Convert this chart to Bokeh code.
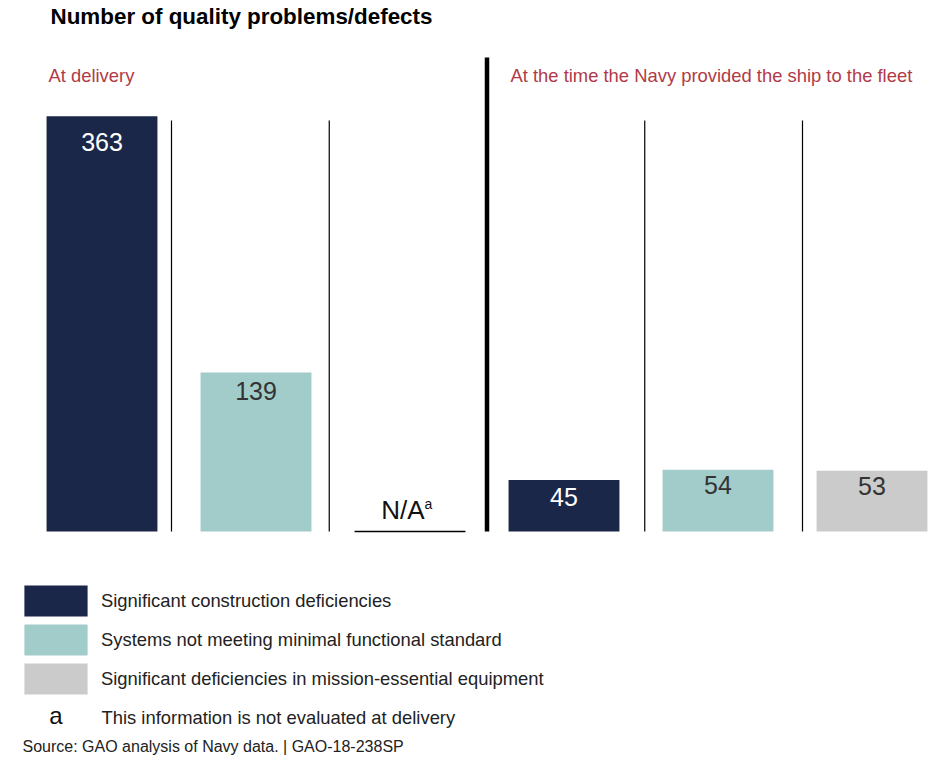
from bokeh.plotting import figure
from bokeh.models import Range1d, Legend, LegendItem
from bokeh.core.properties import value
from bokeh.embed import file_html
from bokeh.resources import INLINE

# ---------------- data ----------------
title_text = "Number of quality problems/defects"
periods = ["At delivery", "At the time the Navy provided the ship to the fleet"]
measures = [
    "Significant construction deficiencies",
    "Systems not meeting minimal functional standard",
    "Significant deficiencies in mission-essential equipment",
]
at_delivery = [363, 139, None]   # None = not evaluated at delivery
to_fleet = [45, 54, 53]
na_text = "N/A"
footnote_mark = "a"
footnote_text = "This information is not evaluated at delivery"
source_text = "Source: GAO analysis of Navy data.  |  GAO-18-238SP"

# ---------------- styles ----------------
bar_colors = ["#1B2749", "#A2CCC9", "#CBCBCB"]
label_colors = ["#FFFFFF", "#333333", "#333333"]
header_color = "#B03A48"
FONT_NAME = "Liberation Sans"
FONT = value(FONT_NAME)
BASE_FIX = 0.39  # alphabetic baseline correction (em)

# ---------------- layout ----------------
W, H = 932, 765
SLOT_PX = 154.0        # pixels between neighbouring bar centres
SLOT0_X = 101.5        # page x of the first bar centre
ZERO_Y = 531.0         # page y of the baseline
UNIT_PX = 1.144        # pixels per defect


def fx(x):  # page x -> data x
    return (x - SLOT0_X) / SLOT_PX


def fy(y):  # page y -> data y
    return (ZERO_Y - y) / UNIT_PX


p = figure(width=W, height=H, output_backend="svg", toolbar_location=None,
           x_range=Range1d(fx(0), fx(W)), y_range=Range1d(fy(H), fy(0)),
           x_axis_location=None, y_axis_location=None, min_border=0,
           outline_line_color=None, background_fill_color="white")
p.grid.visible = False


def txt(x, y, text, size, yoff=0.0, **kw):
    kw.setdefault("text_baseline", "alphabetic")
    p.text(x=x, y=y, text=text, text_font=FONT, text_font_size=f"{size}px",
           y_offset=yoff - BASE_FIX * size, **kw)


BAR_W = 0.72
series = [at_delivery, to_fleet]
label_offsets = {0: 36, 1: 28, 3: 26.5, 4: 25, 5: 25}   # px from bar top to label baseline

renderers = []
for m in range(len(measures)):
    xs, tops = [], []
    for g, vals in enumerate(series):
        if vals[m] is not None:
            xs.append(g * len(measures) + m)
            tops.append(vals[m])
    r = p.vbar(x=xs, top=tops, bottom=0, width=BAR_W, fill_color=bar_colors[m], line_color=None)
    renderers.append(r)
    for x, t in zip(xs, tops):
        txt([x], [t], [str(t)], 25, yoff=label_offsets.get(x, 26), text_align="center",
            text_color=label_colors[m])

# N/A markers for missing values
for g, vals in enumerate(series):
    for m, v in enumerate(vals):
        if v is None:
            xc = g * len(measures) + m
            p.segment(x0=[xc - BAR_W / 2], y0=[0], x1=[xc + BAR_W / 2], y1=[0],
                      line_color="#000000", line_width=1.3)
            txt([xc], [0], [na_text], 26, yoff=-11, text_align="center", x_offset=-7,
                text_color="#111111")
            txt([xc], [0], [footnote_mark], 14, yoff=-22.5, text_align="left", x_offset=14.5,
                text_color="#111111")

# separators
SEP_X0, SEP_STEP = 171.0, 157.75
thin = [fx(SEP_X0 + i * SEP_STEP) for i in range(5) if i != 2]
p.segment(x0=thin, y0=[0] * 4, x1=thin, y1=[fy(120)] * 4, line_color="#000000", line_width=1.2)
thick = fx(SEP_X0 + 2 * SEP_STEP)
p.segment(x0=[thick], y0=[0], x1=[thick], y1=[fy(57)], line_color="#000000", line_width=4.5)

# title and period headers
txt([fx(50)], [fy(25)], [title_text], 22.4, text_font_style="bold", text_color="#000000")
txt([fx(48), fx(510)], [fy(81.7)] * 2, periods, 18.4, text_color=header_color)

# legend (legend swatches are inset 10% of the glyph box)
legend = Legend(items=[LegendItem(label=measures[i], renderers=[renderers[i]]) for i in range(3)],
                location=(16, H - 698), orientation="vertical",
                glyph_width=79, glyph_height=39, spacing=0, label_standoff=6,
                padding=0, margin=0, border_line_color=None, background_fill_alpha=0,
                label_text_font=FONT_NAME, label_text_font_size="18.4px",
                label_text_color="#222222", label_height=39)
p.add_layout(legend)

# footnote and source
txt([fx(55.5)], [fy(724)], [footnote_mark], 24, text_align="center", text_color="#111111")
txt([fx(101)], [fy(724)], [footnote_text], 18.4, text_color="#222222")
txt([fx(22)], [fy(752)], [source_text], 16, text_color="#222222")

open("out.html", "w").write(file_html(p, INLINE))
